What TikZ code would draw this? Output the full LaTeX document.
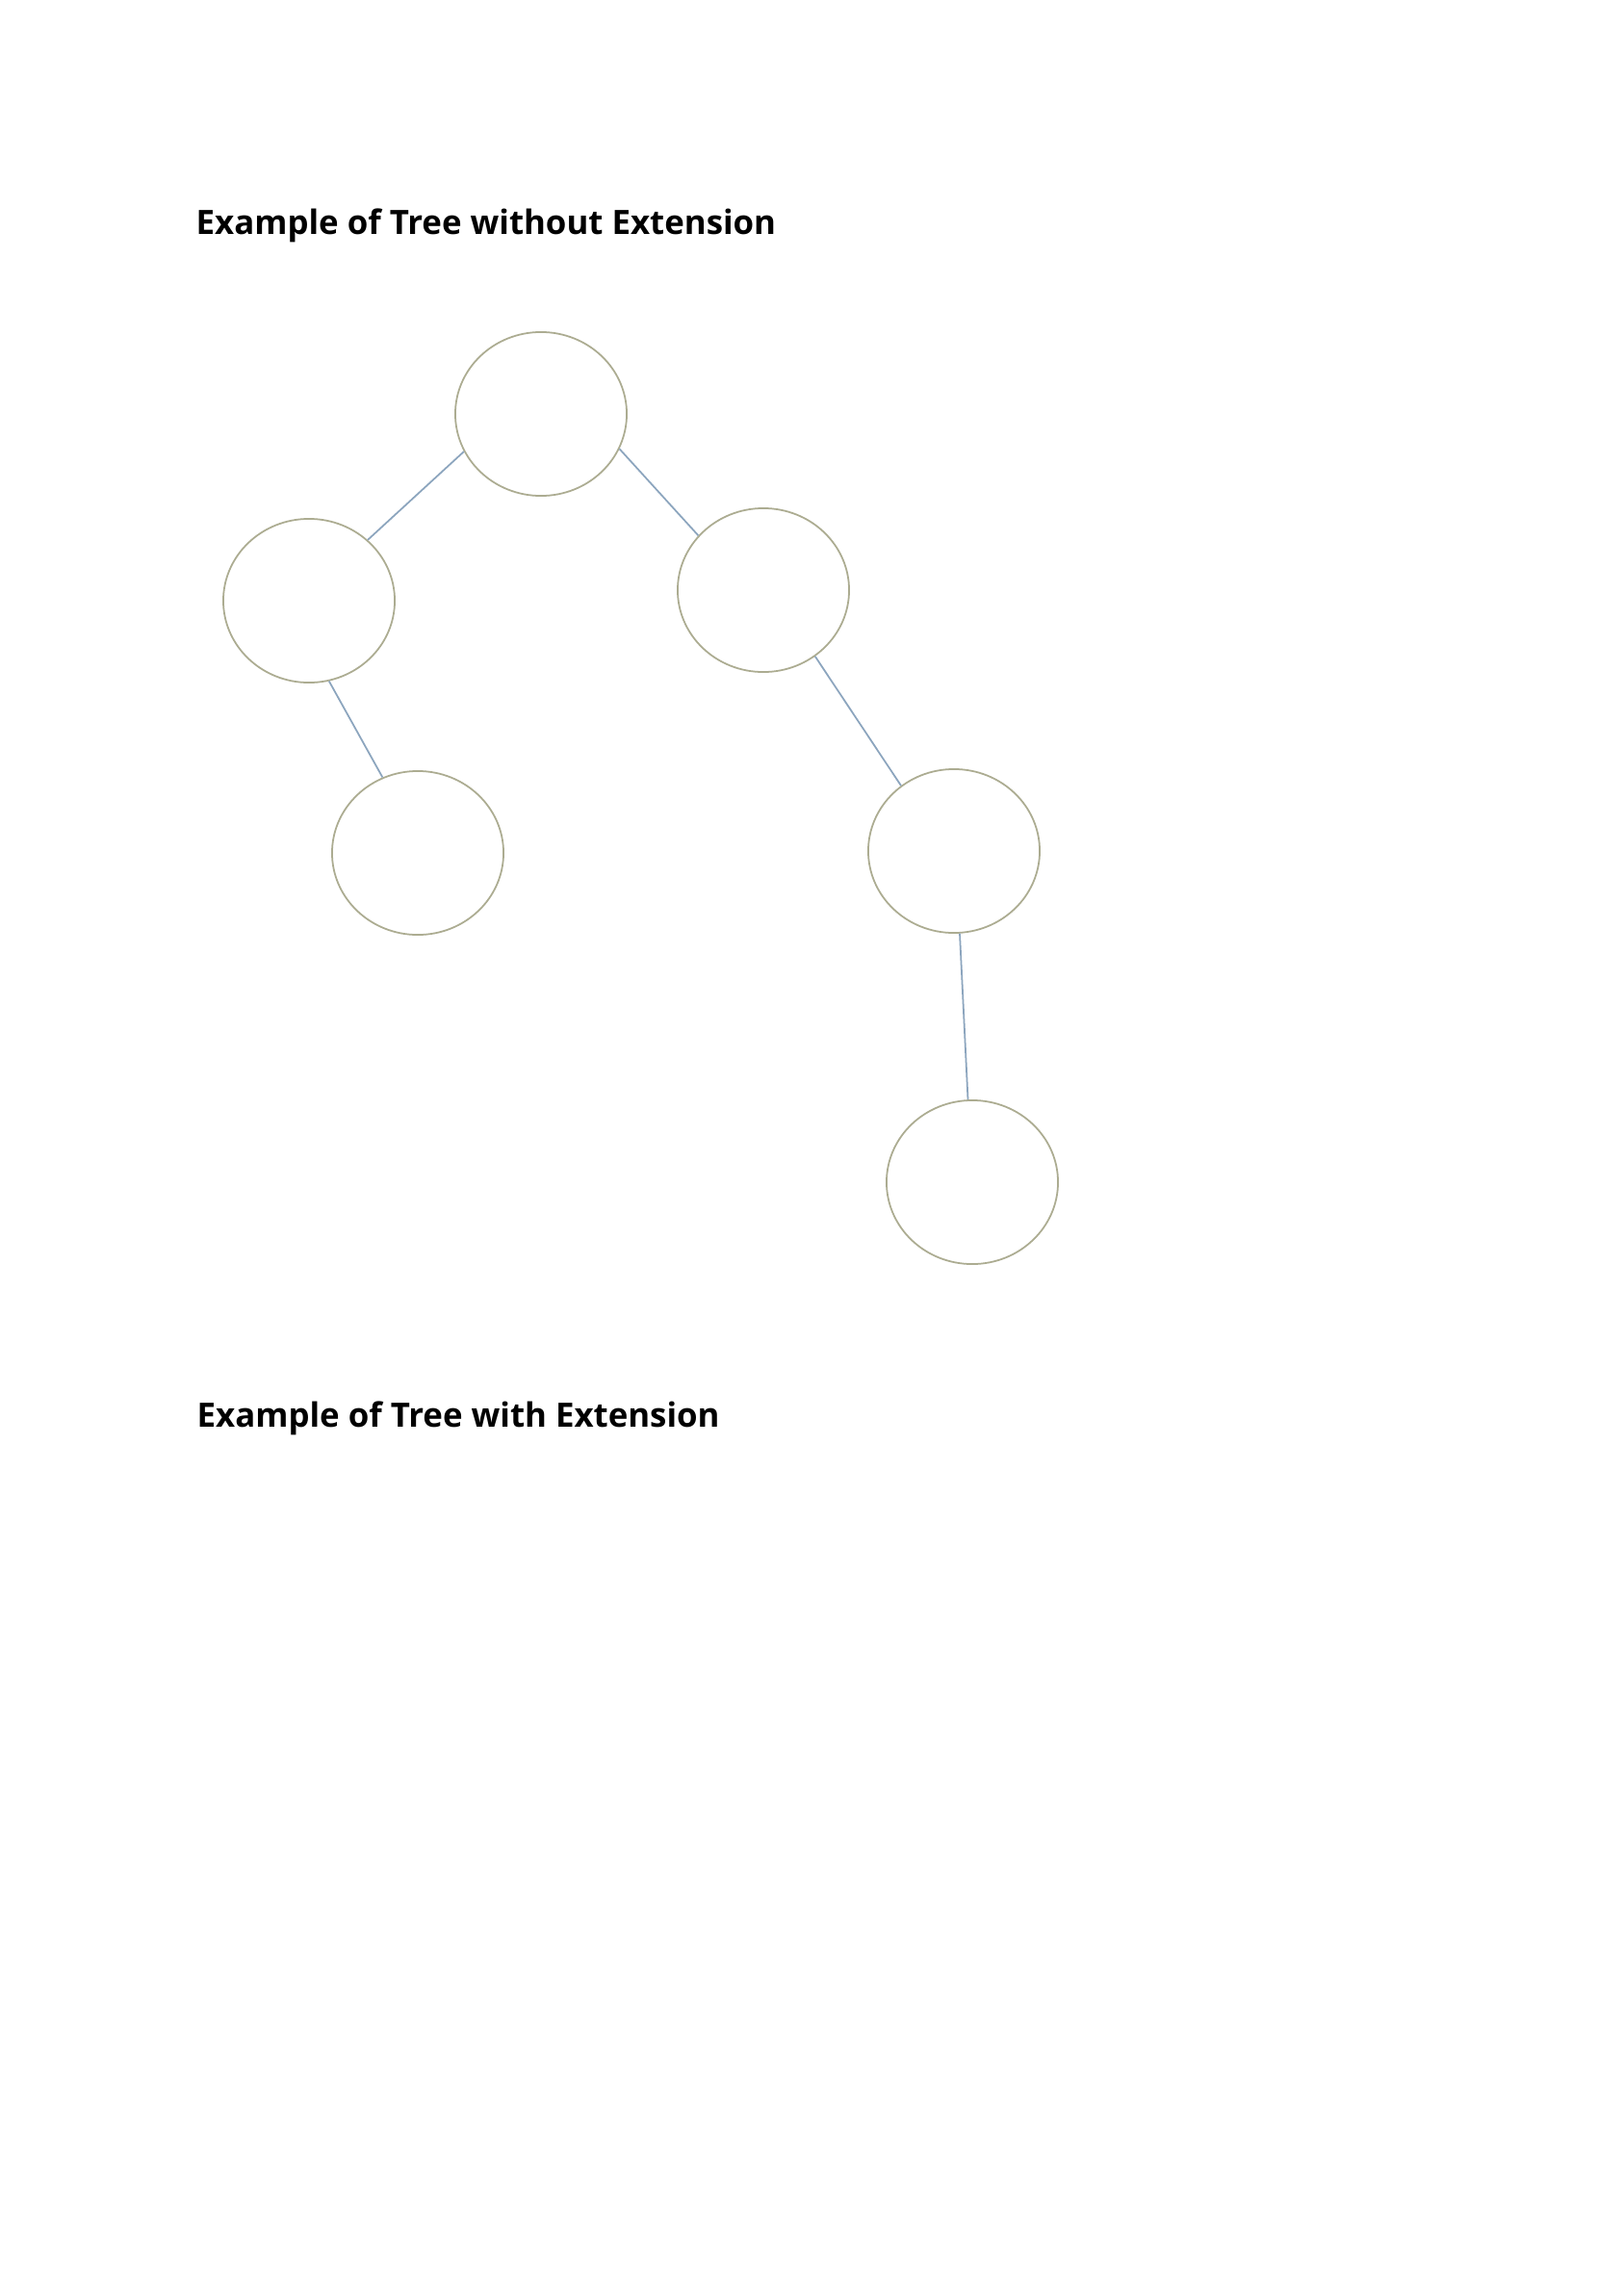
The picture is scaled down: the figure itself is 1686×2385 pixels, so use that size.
\documentclass[tikz,border=0pt]{standalone}
\usepackage{fontspec}
\setmainfont{Open Sans}
\usetikzlibrary{shapes.geometric}
\definecolor{circcol}{RGB}{172,172,145}
\definecolor{edgecol}{RGB}{140,165,190}
\tikzset{
  treenode/.style={ellipse, draw=circcol, line width=0.5pt, minimum width=1.78cm, minimum height=1.70cm, inner sep=0pt},
  treeedge/.style={draw=edgecol, line width=0.5pt},
  title/.style={anchor=base west, inner sep=0pt, font=\fontsize{9.9}{12}\selectfont\bfseries}
}
\begin{document}
\begin{tikzpicture}[x=0.01cm, y=-0.01cm]
\useasboundingbox (0,0) rectangle (1686,2385);
\fill[white] (0,0) rectangle (1686,2385);
\node[title] (t1) at (203,243) {Example of Tree without Extension};
\node[title] (t2) at (204,1482) {Example of Tree with Extension};
\node[treenode] (root) at (562,430) {};
\node[treenode] (l) at (321,624) {};
\node[treenode] (r) at (793,613) {};
\node[treenode] (lc) at (434,886) {};
\node[treenode] (rc) at (991,884) {};
\node[treenode] (b) at (1010,1228) {};
\draw[treeedge] (root.206) -- (l.46);
\draw[treeedge] (root.336) -- (r.140);
\draw[treeedge] (l.284) -- (lc.115);
\draw[treeedge] (r.308) -- (rc.129);
\draw[treeedge] (rc.274) -- (b.93);
\end{tikzpicture}
\end{document}
